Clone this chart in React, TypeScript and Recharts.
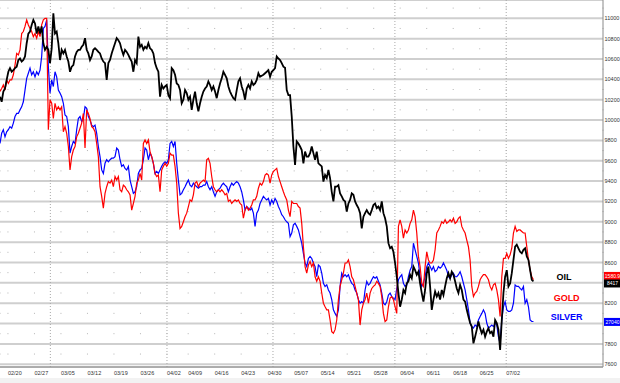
import { CartesianGrid, Line, LineChart, ReferenceDot, ReferenceLine, XAxis, YAxis } from 'recharts';

// Mondays, in trading sessions counted from 02/20
const weekTicks = [0, 5, 10, 15, 20, 25, 30, 34, 39, 44, 49, 54, 59, 64, 69, 74, 79, 84, 89, 94];
const weekLabels = [
  '02/20', '02/27', '03/05', '03/12', '03/19', '03/26', '04/02', '04/09', '04/16', '04/23',
  '04/30', '05/07', '05/14', '05/21', '05/28', '06/04', '06/11', '06/18', '06/25', '07/02',
];
// first session of each month
const monthStarts = [8, 30, 50, 73, 94];
const priceTicks = [
  7600, 7800, 8000, 8200, 8400, 8600, 8800, 9000, 9200, 9400,
  9600, 9800, 10000, 10200, 10400, 10600, 10800, 11000,
];
// tick labels that sit under the last-price boxes
const coveredTicks = [8400, 8000];

// all three series are read against the oil scale on the right axis
const oil = [
  10230, 10180, 10280, 10310, 10395, 10475, 10510, 10475, 10490, 10510,
  10525, 10590, 10605, 10575, 10590, 10625, 10755, 10850, 10870, 10935,
  10985, 10950, 10850, 10920, 10850, 10920, 10755, 10690, 10720, 10690,
  10560, 10705, 11050, 10850, 10870, 10755, 10590, 10690, 10655, 10690,
  10625, 10575, 10475, 10525, 10540, 10625, 10670, 10690, 10690, 10720,
  10740, 10805, 10690, 10655, 10590, 10625, 10690, 10705, 10690, 10670,
  10655, 10605, 10575, 10560, 10395, 10560, 10590, 10655, 10705, 10755,
  10805, 10785, 10755, 10690, 10640, 10690, 10670, 10640, 10605, 10575,
  10475, 10590, 10560, 10820, 10720, 10740, 10690, 10720, 10705, 10755,
  10705, 10690, 10655, 10560, 10510, 10475, 10230, 10345, 10310, 10330,
  10345, 10245, 10215, 10510, 10490, 10445, 10360, 10345, 10295, 10165,
  10200, 10295, 10265, 10200, 10230, 10100, 10200, 10280, 10165, 10085,
  10165, 10230, 10280, 10310, 10330, 10380, 10345, 10295, 10330, 10280,
  10215, 10295, 10360, 10410, 10475, 10445, 10410, 10330, 10280, 10245,
  10215, 10200, 10295, 10380, 10410, 10330, 10280, 10200, 10310, 10345,
  10310, 10380, 10345, 10360, 10395, 10460, 10425, 10435, 10445, 10460,
  10475, 10490,
  10425, 10475, 10490, 10510, 10625, 10605, 10590, 10560, 10525, 10515,
  10295, 10245, 10245, 10035, 9740, 9560, 9790, 9770, 9740, 9705,
  9575, 9690, 9640, 9640, 9675, 9740, 9675, 9610, 9690, 9575,
  9560, 9545, 9395, 9460, 9430, 9510, 9430, 9295, 9200, 9345,
  9345, 9360, 9280, 9250, 9215, 9200, 9100, 9180, 9215, 9280,
  9265, 9200, 9165, 9135, 9085, 8935, 9050, 9085, 9115, 9085,
  9070, 9115, 9165, 9180, 9135, 9150, 9115, 9200, 9085, 9035,
  8955, 8790, 8740, 8755, 8705, 8595, 8460, 8300, 8165, 8235,
  8330, 8300, 8395, 8415, 8480, 8445, 8560, 8525, 8480, 8510,
  8395, 8300, 8215, 8330, 8495, 8560, 8365, 8135, 8235, 8315,
  8265, 8300, 8235, 8330, 8280, 8365, 8445, 8495, 8445, 8510,
  8480, 8415, 8345, 8300, 8380, 8330, 8235, 8215, 8135, 8070,
  8005, 7970, 7805, 7870, 7940, 8020, 7955, 7905, 7940, 7870,
  7920, 7955, 7905, 7920, 7870, 8035, 8005, 7940, 7740, 8035,
  8300, 8460, 8525, 8365, 8395, 8495, 8625, 8755, 8775, 8740,
  8705, 8690, 8725, 8740, 8660, 8625, 8525, 8430, 8415,
];

const gold = [
  10280, 10310, 10345, 10295, 10395, 10360, 10395, 10395, 10445, 10540,
  10655, 10640, 10690, 10850, 10870, 10920, 10985, 10935, 10900, 10870,
  10820, 10850, 10805, 10870, 10820, 10935, 10985, 11000, 11000, 9905,
  10200, 10165, 10015, 10165, 10100, 10130, 10100, 10130, 9885, 9935,
  9870, 9740, 9510, 9640, 9705, 9740, 9835, 9870, 9920, 9970,
  10065, 9725, 10100, 10065, 10015, 9935, 9920, 9885, 9770, 9640,
  9345, 9250, 9135, 9280, 9345, 9395, 9380, 9410, 9345, 9445,
  9410, 9445, 9315, 9295, 9360, 9345, 9315, 9295, 9265, 9115,
  9180, 9250, 9380, 9410, 9475, 9410, 9770, 9805, 9770, 9805,
  9690, 9640, 9575, 9475, 9445, 9460, 9295, 9510, 9545, 9575,
  9545, 9575, 9675, 9655, 9655, 9545, 9380, 9085, 8935, 8955,
  9000, 9050, 9085, 9150, 9215, 9200, 9265, 9380, 9395, 9345,
  9380, 9395, 9410, 9395, 9610, 9625, 9575, 9445, 9345, 9315,
  9295, 9315, 9295, 9315, 9295, 9265, 9280, 9200, 9215, 9180,
  9200, 9215, 9200, 9215, 9180, 9165, 9035, 9115, 9150, 9115,
  9135, 9165, 9215, 9215, 9250, 9330, 9380, 9360, 9395, 9460,
  9475, 9460,
  9380, 9460, 9495, 9510, 9525, 9445, 9395, 9345, 9295, 9250,
  9215, 9115, 9050, 9200, 9180, 9180, 9180, 9150, 9135, 8985,
  8755, 8560, 8495, 8575, 8610, 8560, 8595, 8460, 8415, 8460,
  8415, 8300, 8200, 8165, 8135, 8135, 8035, 7920, 7905, 7940,
  8035, 8235, 8365, 8430, 8495, 8595, 8595, 8625, 8560, 8460,
  8430, 8365, 8300, 8235, 7985, 8135, 8200, 8235, 8300, 8200,
  8300, 8345, 8365, 8380, 8415, 8395, 8365, 8265, 8100, 8020,
  8035, 8165, 8250, 8265, 8235, 8165, 8100, 8955, 9020, 8955,
  8840, 8920, 8890, 8920, 8985, 9020, 9115, 9050, 8890, 8660,
  8560, 8395, 8365, 8560, 8705, 8625, 8595, 8595, 8625, 8725,
  8890, 8920, 8955, 9000, 8985, 9020, 8985, 9000, 9020, 9000,
  9035, 8985, 9000, 9035, 9050, 8955, 8920, 8890, 8820, 8755,
  8625, 8365, 8265, 8300, 8315, 8365, 8430, 8460, 8480, 8480,
  8460, 8430, 8365, 8330, 8380, 8395, 8330, 8235, 8070, 8460,
  8640, 8640, 8690, 8640, 8675, 8740, 8890, 8955, 8905, 8920,
  8920, 8905, 8890, 8890, 8755, 8625, 8525, 8460, 8430,
];

const silver = [
  9770, 9870, 9905, 9835, 9885, 9905, 9935, 9920, 9970, 10035,
  10065, 10065, 10100, 10130, 10180, 10295, 10410, 10460, 10510, 10445,
  10475, 10425, 10475, 10445, 10490, 10625, 10900, 10920, 10985, 10525,
  10265, 10395, 10330, 10475, 10425, 10295, 10265, 10230, 10165, 10050,
  10035, 9935, 9675, 9740, 9790, 9770, 9905, 10015, 10035, 9985,
  10015, 10130, 10115, 10035, 10000, 9950, 9935, 9950, 9870, 9740,
  9640, 9510, 9475, 9575, 9610, 9590, 9610, 9625, 9625, 9640,
  9725, 9705, 9610, 9545, 9560, 9525, 9510, 9545, 9410, 9345,
  9280, 9295, 9345, 9475, 9510, 9525, 9610, 9725, 9705, 9610,
  9675, 9640, 9575, 9475, 9495, 9475, 9510, 9545, 9575, 9590,
  9575, 9610, 9770, 9790, 9740, 9790, 9575, 9410, 9265, 9280,
  9315, 9345, 9380, 9410, 9360, 9345, 9380, 9360, 9345, 9330,
  9345, 9345, 9360, 9360, 9395, 9345, 9315, 9345, 9295, 9250,
  9295, 9315, 9330, 9360, 9380, 9360, 9345, 9295, 9345, 9380,
  9360, 9380, 9395, 9380, 9345, 9295, 9215, 9115, 9150, 9135,
  9115, 9135, 9085, 8955, 9085, 9115, 9180, 9215, 9250, 9230,
  9215, 9230,
  9165, 9215, 9180, 9230, 9200, 9150, 9115, 9070, 9050, 9020,
  9000, 8985, 8855, 8890, 8970, 8985, 8955, 8920, 8855, 8790,
  8690, 8595, 8560, 8640, 8660, 8640, 8595, 8560, 8460, 8575,
  8560, 8495, 8395, 8365, 8380, 8330, 8300, 8235, 8135, 8100,
  8070, 8135, 8365, 8495, 8460, 8480, 8460, 8480, 8430, 8395,
  8380, 8330, 8300, 8235, 8200, 8215, 8200, 8330, 8415, 8380,
  8395, 8430, 8460, 8445, 8460, 8415, 8380, 8300, 8200, 8185,
  8215, 8280, 8300, 8265, 8250, 8235, 8345, 8430, 8460, 8480,
  8395, 8365, 8380, 8460, 8525, 8560, 8790, 8725, 8660, 8595,
  8460, 8365, 8395, 8460, 8560, 8595, 8560, 8525, 8560, 8510,
  8525, 8560, 8545, 8560, 8595, 8560, 8525, 8460, 8445, 8480,
  8495, 8460, 8460, 8480, 8510, 8460, 8395, 8330, 8235, 8135,
  8005, 7970, 7955, 7985, 7970, 8035, 8070, 8100, 8135, 8100,
  8005, 7955, 7970, 7985, 7970, 8005, 7985, 7870, 7805, 8035,
  8165, 8215, 8135, 8120, 8120, 8135, 8200, 8380, 8365, 8365,
  8345, 8330, 8365, 8200, 8235, 8165, 8035, 8020, 8020,
];

// last-price boxes on the right axis
const endTags = [
  { text: '1580.9', color: '#ff0000', level: 8468 },
  { text: '8417', color: '#000000', level: 8394 },
  { text: '27040', color: '#0000ff', level: 8016 },
];

const seriesTags = [
  { name: 'OIL', color: '#000000', session: 104.9, level: 8458 },
  { name: 'GOLD', color: '#ff0000', session: 105.4, level: 8252 },
  { name: 'SILVER', color: '#0000ff', session: 105.4, level: 8065 },
];

const FIRST_SESSION = -1.5;
const SESSION_STEP = 0.3145;
const FONT = '"Liberation Sans", Arial, sans-serif';

const chartData = oil.map((value, i) => ({
  t: FIRST_SESSION + i * SESSION_STEP,
  oil: value,
  gold: gold[i],
  silver: silver[i],
}));

const WeekTick = ({ x, y, payload }: any) => (
  <text x={x} y={y} dy={8} fontSize={5.5} fill="#333" fontFamily={FONT} textAnchor="start">
    {weekLabels[weekTicks.indexOf(payload.value)]}
  </text>
);

const PriceTick = ({ x, y, payload }: any) => {
  if (coveredTicks.includes(payload.value)) {
    return null;
  }
  return (
    <text x={x} y={y} dy={2} fontSize={5.5} fill="#333" fontFamily={FONT} textAnchor="start">
      {payload.value}
    </text>
  );
};

const EndTag = ({ viewBox, text, color }: any) => {
  const right = viewBox.x + viewBox.width;
  return (
    <g>
      <rect x={right + 1} y={viewBox.y - 4} width={17} height={8} fill={color} />
      <text
        x={right + 9.5}
        y={viewBox.y + 2}
        fontSize={5}
        fill="#ffffff"
        fontFamily={FONT}
        textAnchor="middle"
      >
        {text}
      </text>
    </g>
  );
};

const SeriesTag = ({ viewBox, name, color }: any) => (
  <text
    x={viewBox.x}
    y={viewBox.y + 3.3}
    fontSize={9}
    fontWeight="bold"
    fill={color}
    fontFamily={FONT}
    textAnchor="middle"
  >
    {name}
  </text>
);

export default function App() {
  return (
    <div style={{ position: 'absolute', left: 0, top: 0, width: 620, height: 383, background: '#ffffff' }}>
      <div style={{ position: 'absolute', left: 0, top: 378, width: 620, height: 5, background: '#f2f2f2' }} />
      <LineChart
        width={620}
        height={383}
        data={chartData}
        margin={{ top: 0, right: 0, bottom: 0, left: 0 }}
        style={{ position: 'absolute', left: 0, top: 0 }}
      >
        <CartesianGrid horizontal vertical={false} stroke="#cfcfcf" strokeWidth={2} />
        <CartesianGrid horizontal={false} vertical stroke="#b5b5b5" strokeDasharray="0 7.6 1 11.75" />
        <XAxis
          type="number"
          dataKey="t"
          domain={[FIRST_SESSION, 112.26]}
          allowDataOverflow
          ticks={weekTicks}
          interval={0}
          height={16}
          tickSize={0}
          tickMargin={0}
          tick={<WeekTick />}
          axisLine={{ stroke: '#8a8a8a' }}
        />
        <YAxis
          orientation="right"
          domain={[7573, 11180]}
          allowDataOverflow
          ticks={priceTicks}
          interval={0}
          width={17}
          tickSize={0}
          tickMargin={1.5}
          tick={<PriceTick />}
          axisLine={{ stroke: '#8a8a8a' }}
        />
        {monthStarts.map((session) => (
          <ReferenceLine key={session} x={session} stroke="#a8a8a8" strokeDasharray="1 2" />
        ))}
        <Line
          type="linear"
          dataKey="silver"
          stroke="#0000ff"
          strokeWidth={1.2}
          dot={false}
          activeDot={false}
          isAnimationActive={false}
        />
        <Line
          type="linear"
          dataKey="gold"
          stroke="#ff0000"
          strokeWidth={1.2}
          dot={false}
          activeDot={false}
          isAnimationActive={false}
        />
        <Line
          type="linear"
          dataKey="oil"
          stroke="#000000"
          strokeWidth={1.8}
          dot={false}
          activeDot={false}
          isAnimationActive={false}
        />
        {seriesTags.map((tag) => (
          <ReferenceDot
            key={tag.name}
            x={tag.session}
            y={tag.level}
            r={0}
            fill="none"
            stroke="none"
            label={<SeriesTag name={tag.name} color={tag.color} />}
          />
        ))}
        {endTags.map((tag) => (
          <ReferenceLine
            key={tag.text}
            y={tag.level}
            stroke="none"
            label={<EndTag text={tag.text} color={tag.color} />}
          />
        ))}
      </LineChart>
    </div>
  );
}
